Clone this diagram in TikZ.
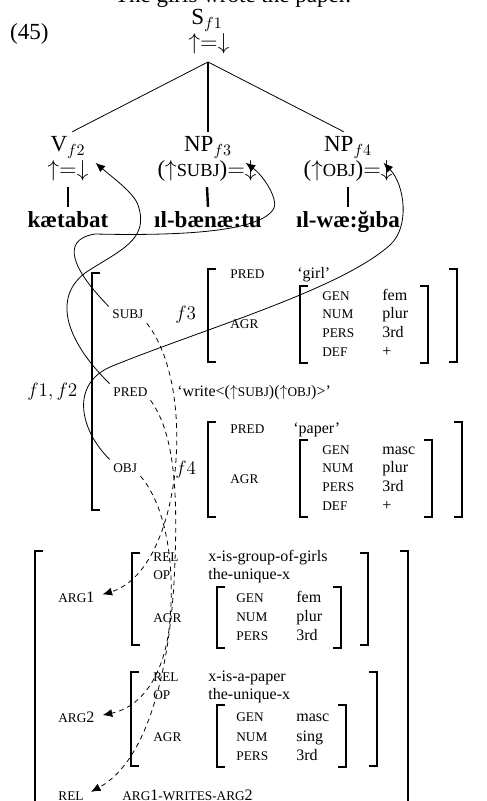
\documentclass[tikz,border=0pt]{standalone}
\usepackage[no-math]{fontspec}
\setmainfont{Liberation Serif}
\usetikzlibrary{arrows.meta, calc}
\newcommand\capsize{\fontsize{8.3}{10}\selectfont}
\newcommand\bigcapsize{\fontsize{11.5}{14}\selectfont}
\newcommand\bracketwidth{8}

\begin{document}
\begin{tikzpicture}[yscale = -1, x = 0.625pt, y = 0.625pt, line width = 0.5pt,
	cat/.style = {anchor = base, inner sep = 3pt, font = \Large},
	word/.style = {anchor = base, inner sep = 3pt, font = \Large\bfseries},
	attr/.style = {anchor = base west, inner sep = 0pt, font = \capsize},
	val/.style = {anchor = base west, inner sep = 0pt},
	fname/.style = {anchor = base west, inner sep = 0pt, font = \large},
	bracket/.style = {line width = 1.1pt},
	link/.style = {-{Latex[length = 6pt, width = 5pt]}, shorten <= 3pt},
	maplink/.style = {link, dash pattern = on 3pt off 2.5pt, shorten >= 5pt}
]
	\useasboundingbox (0, 0) rectangle (486, 801);

	\node [cat] (titel) at (233, 3) {The girls wrote the paper.};
	\node [cat, anchor = base west] (nummer) at (5, 40) {(45)};

	% Baum
	\node [cat] (scat) at (207, 25) {S$_{f1}$};
	\node [cat] (sann) at (209, 50) {$\uparrow=\downarrow$};
	\coordinate (apex) at (208, 62);

	\node [cat] (vcat) at (68, 152) {V$_{f2}$};
	\node [cat] (vann) at (68, 177) {$\uparrow=\downarrow$};
	\node [word] (vword) at (68, 228) {kætabat};

	\node [cat] (npthreecat) at (208, 152) {NP$_{f3}$};
	\node [cat] (npthreeann) at (207, 177) {($\uparrow${\bigcapsize SUBJ})$=\downarrow$};
	\node [word] (npthreeword) at (208, 228) {ıl-bænæ:tu};

	\node [cat] (npfourcat) at (348, 152) {NP$_{f4}$};
	\node [cat] (npfourann) at (348, 177) {($\uparrow${\bigcapsize OBJ})$=\downarrow$};
	\node [word] (npfourword) at (348, 228) {ıl-wæ:ğıba};

	\draw (apex) -- (vcat.75);
	\draw [line width = 1.5pt] (apex) -- (npthreecat.north);
	\draw (apex) -- (npfourcat.105);
	\draw [line width = 1.5pt] (vann.south) -- (vword.north);
	\draw [line width = 1.5pt] (npthreeann.south) -- (npthreeword.north);
	\draw [line width = 1.5pt] (npfourann.south) -- (npfourword.north);

	% Klammern
	\foreach \x/\oben/\unten in {92/273/510, 208/269/362, 300/286/363, 208/422/517, 300/440/517,
		35/551/840, 132/553/645, 217/587/648, 131/672/766, 217/705/767} {
		\draw [bracket] (\x+\bracketwidth, \oben) -- (\x, \oben) -- (\x, \unten) -- (\x+\bracketwidth, \unten);
	}
	\foreach \x/\oben/\unten in {457/269/362, 428/286/363, 462/422/517, 432/440/517,
		408/551/840, 368/553/645, 341/587/648, 377/672/766, 346/705/767} {
		\draw [bracket] (\x-\bracketwidth, \oben) -- (\x, \oben) -- (\x, \unten) -- (\x-\bracketwidth, \unten);
	}

	% f-Struktur
	\node [fname] (feins) at (27, 396) {$f1, f2$};
	\node [attr] (subj) at (112, 319) {SUBJ};
	\node [fname] (fthree) at (175, 320) {$f3$};
	\node [attr] (pred) at (113, 396) {PRED};
	\node [val] (predwert) at (177, 396) {`write<($\uparrow${\capsize SUBJ})($\uparrow${\capsize OBJ})>'};
	\node [attr] (obj) at (113, 472) {OBJ};
	\node [fname] (ffour) at (175, 474) {$f4$};

	\node [attr] (fthree-pred) at (230, 279) {PRED};
	\node [val] (fthree-predwert) at (297, 279) {`girl'};
	\node [attr] (fthree-agr) at (230, 329) {AGR};
	\foreach \y/\merkmal/\wert in {301/GEN/fem, 319/NUM/plur, 337.5/PERS/3rd, 356/DEF/+} {
		\node [attr] (fthree-\merkmal) at (322, \y) {\merkmal};
		\node [val] (fthree-\merkmal-wert) at (382, \y) {\wert};
	}

	\node [attr] (ffour-pred) at (230, 433) {PRED};
	\node [val] (ffour-predwert) at (293, 433) {`paper'};
	\node [attr] (ffour-agr) at (230, 483) {AGR};
	\foreach \y/\merkmal/\wert in {454.5/GEN/masc, 472.5/NUM/plur, 491/PERS/3rd, 510/DEF/+} {
		\node [attr] (ffour-\merkmal) at (322, \y) {\merkmal};
		\node [val] (ffour-\merkmal-wert) at (382, \y) {\wert};
	}

	% Semantische Struktur
	\node [attr] (arg1) at (58, 602) {ARG{\normalsize 1}};
	\node [attr] (arg2) at (58, 722) {ARG{\normalsize 2}};
	\node [attr] (rel) at (58, 800) {REL};
	\node [attr] (relwert) at (122, 800) {ARG{\normalsize 1}-WRITES-ARG{\normalsize 2}};

	\node [attr] (argeins-rel) at (153, 561) {REL};
	\node [val] (argeins-relwert) at (208, 561) {x-is-group-of-girls};
	\node [attr] (argeins-op) at (153, 579) {OP};
	\node [val] (argeins-opwert) at (208, 579) {the-unique-x};
	\node [attr] (argeins-agr) at (153, 622) {AGR};
	\foreach \y/\merkmal/\wert in {602/GEN/fem, 621/NUM/plur, 640/PERS/3rd} {
		\node [attr] (argeins-\merkmal) at (236, \y) {\merkmal};
		\node [val] (argeins-\merkmal-wert) at (296, \y) {\wert};
	}

	\node [attr] (argzwei-rel) at (153, 681) {REL};
	\node [val] (argzwei-relwert) at (208, 681) {x-is-a-paper};
	\node [attr] (argzwei-op) at (153, 699) {OP};
	\node [val] (argzwei-opwert) at (208, 699) {the-unique-x};
	\node [attr] (argzwei-agr) at (153, 741) {AGR};
	\foreach \y/\merkmal/\wert in {721.5/GEN/masc, 741/NUM/sing, 760/PERS/3rd} {
		\node [attr] (argzwei-\merkmal) at (236, \y) {\merkmal};
		\node [val] (argzwei-\merkmal-wert) at (296, \y) {\wert};
	}

	% Projektionen
	\draw [link] (subj.north west) .. controls (75, 272) and (58, 240) .. (95, 234)
		.. controls (180, 236) and (262, 232) .. (274, 208)
		.. controls (278, 200) and (265, 177) .. ($(npthreeann.north east) + (-16, 7)$);
	\draw [link] (pred.north west) .. controls (70, 345) and (50, 300) .. (85, 273)
		.. controls (120, 250) and (150, 240) .. (138, 205)
		.. controls (134, 193) and (112, 177) .. ($(vann.north east) + (2, 7)$);
	\draw [link] (obj.north west) .. controls (80, 430) and (70, 385) .. (110, 367)
		.. controls (200, 330) and (340, 290) .. (390, 245)
		.. controls (410, 227) and (405, 185) .. ($(npfourann.north east) + (-14, 7)$);

	\draw [maplink] (subj.south east) .. controls (168, 350) and (180, 400) .. (176, 460)
		.. controls (172, 520) and (150, 580) .. (arg1.east);
	\draw [maplink] (pred.south east) .. controls (172, 430) and (178, 480) .. (175, 560)
		.. controls (172, 660) and (150, 760) .. (rel.east);
	\draw [maplink] (obj.south east) .. controls (165, 505) and (175, 560) .. (170, 620)
		.. controls (167, 660) and (150, 705) .. (arg2.east);
\end{tikzpicture}
\end{document}
